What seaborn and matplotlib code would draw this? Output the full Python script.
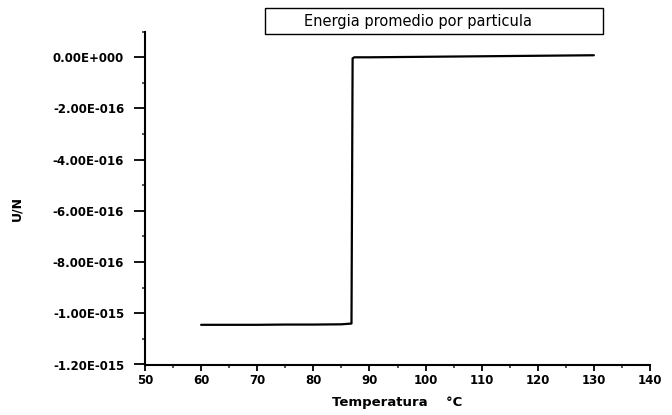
import matplotlib
matplotlib.use("Agg")
import matplotlib.pyplot as plt
import matplotlib.patches as mpatches
from matplotlib.ticker import MultipleLocator
import seaborn as sns
import pandas as pd

# Data
temperatura = [60, 65, 70, 75, 80, 85, 86.8, 87.0, 87.3, 90, 95, 100, 105, 110, 115, 120, 125, 130]
energia = [-1.045e-15, -1.045e-15, -1.045e-15, -1.044e-15, -1.044e-15, -1.043e-15, -1.040e-15,
           -0.004e-15, 0.0, 0.0, 0.001e-15, 0.002e-15, 0.003e-15, 0.004e-15,
           0.005e-15, 0.006e-15, 0.007e-15, 0.008e-15]
x_ticks = [50, 60, 70, 80, 90, 100, 110, 120, 130, 140]
y_ticks = [-1.2e-15, -1.0e-15, -0.8e-15, -0.6e-15, -0.4e-15, -0.2e-15, 0.0]
y_tick_labels = ["-1.20E-015", "-1.00E-015", "-8.00E-016", "-6.00E-016",
                 "-4.00E-016", "-2.00E-016", "0.00E+000"]
titulo = "Energia promedio por particula"

df = pd.DataFrame({"T": temperatura, "U": energia})

sns.set_style("ticks")
plt.rcParams["font.family"] = ["DejaVu Sans"]
plt.rcParams["text.color"] = "black"
plt.rcParams["axes.labelcolor"] = "black"

fig = plt.figure(figsize=(6.72, 4.15), dpi=100)
ax = fig.add_axes([145 / 672, 1 - 364.5 / 415, (650 - 145) / 672, (364.5 - 31.7) / 415])

sns.lineplot(data=df, x="T", y="U", ax=ax, color="black", linewidth=1.6, sort=False)

ax.set_xlim(50, 140)
ax.set_ylim(-1.2e-15, 0.1e-15)
ax.set_xticks(x_ticks)
ax.set_yticks(y_ticks)
ax.set_yticklabels(y_tick_labels)
ax.xaxis.set_minor_locator(MultipleLocator(5))
ax.yaxis.set_minor_locator(MultipleLocator(0.1e-15))
ax.tick_params(axis="both", which="major", length=4, width=1.3, labelsize=8.5, colors="black")
ax.tick_params(axis="both", which="minor", length=2.5, width=1.1)
ax.tick_params(axis="y", which="major", length=8, pad=7)
ax.tick_params(axis="x", which="major", pad=3)
for lbl in ax.get_xticklabels() + ax.get_yticklabels():
    lbl.set_fontweight("bold")

for side in ["top", "right"]:
    ax.spines[side].set_visible(False)
for side in ["left", "bottom"]:
    ax.spines[side].set_linewidth(1.5)
    ax.spines[side].set_color("black")

ax.set_xlabel("Temperatura    \u00b0C", fontsize=9.5, fontweight="bold", labelpad=6)
ax.set_ylabel("U/N", fontsize=9, fontweight="bold")
ax.yaxis.set_label_coords(-0.241, 0.47)

# Title box
rect = mpatches.Rectangle((265 / 672, 1 - 34 / 415), 338 / 672, 26 / 415,
                          transform=fig.transFigure, fill=False, edgecolor="black",
                          linewidth=1.0)
fig.patches.append(rect)
fig.text(418 / 672, 1 - 21.5 / 415, titulo, ha="center", va="center", fontsize=10.5,
         color="black")

fig.savefig("out.png", dpi=100)
